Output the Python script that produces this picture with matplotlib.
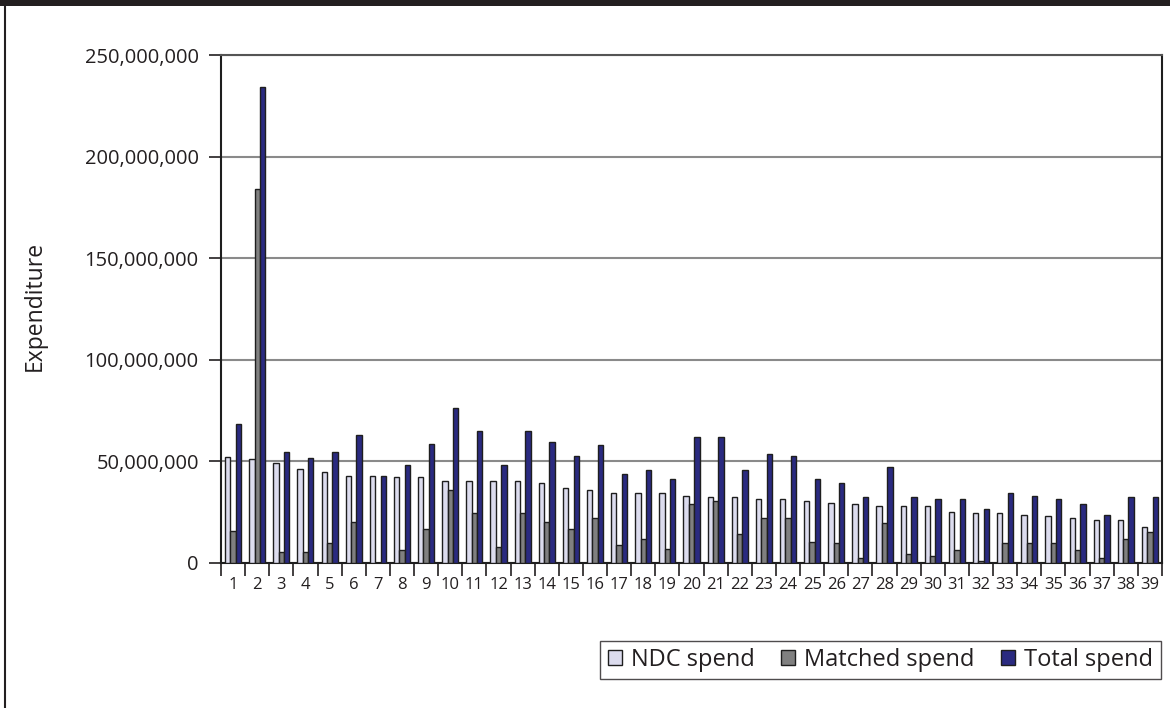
import matplotlib
matplotlib.use("Agg")
import matplotlib.pyplot as plt
from matplotlib.patches import Rectangle
from matplotlib.ticker import FuncFormatter, MultipleLocator
import numpy as np

plt.rcParams['font.family'] = ['Open Sans', 'DejaVu Sans']

categories = [str(i) for i in range(1, 40)]

ndc_spend = [52.4, 51.0, 49.2, 46.4, 44.8, 43.0, 43.0, 42.2, 42.2, 40.3,
             40.3, 40.3, 40.3, 39.4, 36.9, 36.0, 34.3, 34.3, 34.3, 33.1,
             32.3, 32.3, 31.5, 31.5, 30.5, 29.7, 28.9, 28.1, 28.1, 28.1,
             25.2, 24.4, 24.4, 23.5, 22.9, 21.9, 21.1, 21.1, 17.5]
matched_spend = [15.7, 183.9, 5.4, 5.4, 9.7, 20.3, 0.0, 6.3, 16.7, 36.0,
                 24.5, 8.0, 24.5, 20.3, 16.7, 21.9, 8.8, 11.7, 7.0, 29.1,
                 30.7, 14.1, 21.9, 21.9, 10.4, 9.7, 2.6, 19.5, 4.5, 3.4,
                 6.3, 1.0, 9.7, 9.7, 9.7, 6.3, 2.6, 11.7, 15.1]
total_spend = [68.2, 234.3, 54.4, 51.8, 54.4, 63.0, 43.0, 48.1, 58.8, 76.3,
               64.9, 48.1, 64.9, 59.6, 52.6, 58.0, 43.8, 45.6, 41.2, 62.0,
               62.0, 45.6, 53.4, 52.6, 41.2, 39.3, 32.3, 47.2, 32.3, 31.5,
               31.5, 26.5, 34.3, 33.1, 31.5, 29.1, 23.5, 32.3, 32.3]

series_names = ["NDC spend", "Matched spend", "Total spend"]
series_colors = ["#dcdcee", "#808080", "#2a2a80"]
series_values = [ndc_spend, matched_spend, total_spend]
scale = 1e6  # values above are in millions

W, H = 1170, 708
fig = plt.figure(figsize=(W / 100, H / 100), dpi=100)

# outer frame: dark band across the top and a rule down the left side
fig.patches.append(Rectangle((0, 1 - 6 / H), 1, 6 / H, transform=fig.transFigure,
                             facecolor="#231f20", edgecolor="none", zorder=0))
fig.add_artist(plt.Line2D([4.5 / W, 4.5 / W], [0, 1 - 6 / H], transform=fig.transFigure,
                          color="#231f20", linewidth=1.5))

left, right, top, bottom = 221, 1162, 55, 563
ax = fig.add_axes([left / W, 1 - bottom / H, (right - left) / W, (bottom - top) / H])

x = np.arange(len(categories))
bw = 1 / 4.5
for k, (name, color, vals) in enumerate(zip(series_names, series_colors, series_values)):
    ax.bar(x + (k - 1) * bw, np.array(vals) * scale, width=bw, color=color,
           edgecolor="#1e1e1e", linewidth=1.0, label=name, zorder=3)

ax.set_xlim(-0.5, len(categories) - 0.5)
ax.set_ylim(0, 250e6)
ax.yaxis.set_major_locator(MultipleLocator(50e6))
ax.yaxis.set_major_formatter(FuncFormatter(lambda v, p: f"{int(round(v)):,}"))
ax.grid(axis="y", color="#8a8a8a", linewidth=1.5, zorder=0)
ax.set_axisbelow(True)

ax.set_xticks(x)
ax.set_xticklabels(categories, fontsize=12, color="#231f20")
ax.set_xticks(np.arange(len(categories) + 1) - 0.5, minor=True)
ax.tick_params(axis="x", which="major", length=0, pad=10)
ax.tick_params(axis="x", which="minor", length=9, width=1.2, color="#231f20", direction="out")
ax.tick_params(axis="y", which="major", length=9, width=1.2, color="#231f20",
               labelsize=14.5, labelcolor="#231f20", pad=7)

for side in ("left", "bottom"):
    ax.spines[side].set_color("#1e1e1e")
    ax.spines[side].set_linewidth(1.5)
ax.spines["top"].set_color("#555555")
ax.spines["top"].set_linewidth(1.5)
ax.spines["right"].set_color("#1e1e1e")
ax.spines["right"].set_linewidth(1.5)

fig.text(35 / W, 1 - 306 / H, "Expenditure", rotation=90, ha="center", va="center",
         fontsize=16.5, color="#231f20")

leg = fig.legend(loc="center right", bbox_to_anchor=((right - 1.5) / W, 1 - 660 / H),
                 ncol=3, fontsize=17, frameon=True, fancybox=False,
                 borderaxespad=0.0,
                 handlelength=0.6, handleheight=0.6, handletextpad=0.4,
                 columnspacing=1.1, borderpad=0.3, labelcolor="#231f20")
leg.get_frame().set_edgecolor("#231f20")
leg.get_frame().set_linewidth(1.0)
for h in leg.legend_handles:
    h.set_edgecolor("#1e1e1e")
    h.set_linewidth(1.0)

fig.savefig("out.png", dpi=100)
